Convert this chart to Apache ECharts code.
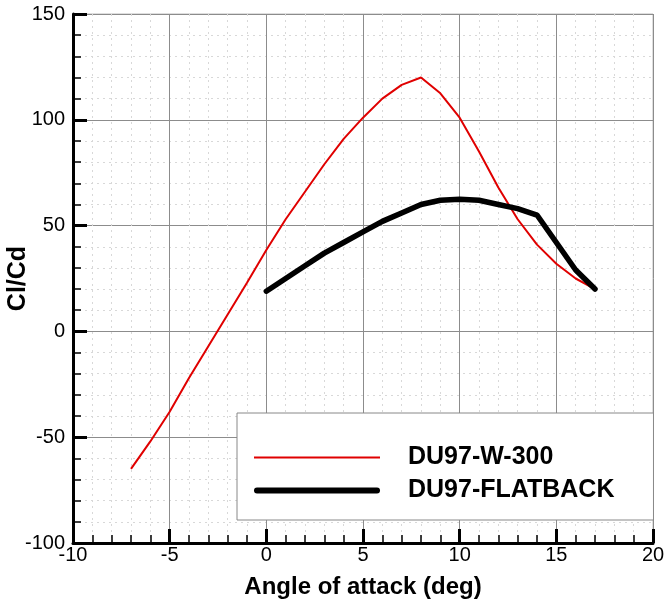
<!DOCTYPE html>
<html>
<head>
<meta charset="utf-8">
<script src="https://cdn.jsdelivr.net/npm/echarts@6/dist/echarts.min.js"></script>
<style>
  html, body { margin: 0; padding: 0; background: #fff; }
  #chart { width: 665px; height: 603px; }
</style>
</head>
<body>
<div id="chart"></div>
<script>
var chart = echarts.init(document.getElementById('chart'));

// angle of attack (deg)
const angleW300 = [-7, -6, -5, -4, -3, -2, -1, 0, 1, 2, 3, 4, 5, 6, 7, 8, 9, 10, 11, 12, 13, 14, 15, 16, 17];
const clcdW300 = [-65, -52, -38, -22, -7, 8, 23, 38.5, 53, 66, 79, 91, 101, 110, 116.5, 120, 112.5, 101, 85, 68, 53, 41, 32, 25, 20];

const angleFlat = [0, 1, 2, 3, 4, 5, 6, 7, 8, 9, 10, 11, 12, 13, 14, 15, 16, 17];
const clcdFlat = [19, 25, 31, 37, 42, 47, 52, 56, 60, 62, 62.5, 62, 60, 58, 55, 42, 29, 20];

const seriesNames = ['DU97-W-300', 'DU97-FLATBACK'];

const font = "'Liberation Sans', Arial, sans-serif";

// legend swatches: a bar inside a 126x22 box (corner points keep the box size)
const thinBar = 'path://M0,0L0,0M0,10L126,10L126,12L0,12ZM126,22L126,22';
const thickBar = 'path://M0,0L0,0M3,8L123,8A3,3,0,0,1,123,14L3,14A3,3,0,0,1,3,8ZM126,22L126,22';

function pairs(xs, ys) {
  return xs.map(function (x, i) { return [x, ys[i]]; });
}

var axisCommon = {
  type: 'value',
  axisLine: { show: true, onZero: false, lineStyle: { color: '#000', width: 3 } },
  axisTick: { show: true, inside: true, length: 14, lineStyle: { color: '#000', width: 3 } },
  minorTick: { show: true, splitNumber: 5, length: 8, lineStyle: { color: '#000', width: 1.5 } },
  splitLine: { show: true, lineStyle: { color: '#8c8c8c', width: 1 } },
  minorSplitLine: { show: true, lineStyle: { color: '#d8d8d8', width: 1, type: [2, 4] } }
};

var option = {
  backgroundColor: '#fff',
  animation: false,
  grid: {
    left: 73, right: 12, top: 14, bottom: 60,
    outerBoundsMode: 'none',
    containLabel: false,
    show: true, borderColor: '#bdbdbd', borderWidth: 1
  },
  legend: {
    data: [
      { name: seriesNames[0], icon: thinBar },
      { name: seriesNames[1], icon: thickBar }
    ],
    orient: 'vertical',
    left: 237,
    top: 413,
    backgroundColor: '#fff',
    borderColor: '#888',
    borderWidth: 1,
    padding: [32, 39, 17, 17],
    itemWidth: 126,
    itemHeight: 22,
    itemGap: 8,
    textStyle: { fontFamily: font, fontSize: 25, lineHeight: 25, fontWeight: 'bold', color: '#000', padding: [0, 0, 0, 23] }
  },
  xAxis: Object.assign({}, axisCommon, {
    min: -10, max: 20, interval: 5,
    name: 'Angle of attack (deg)',
    nameLocation: 'middle',
    nameGap: 32,
    nameTextStyle: { fontFamily: font, fontSize: 24, fontWeight: 'bold', color: '#000' },
    axisLabel: { fontFamily: font, fontSize: 20, color: '#000', margin: 2 }
  }),
  yAxis: Object.assign({}, axisCommon, {
    min: -100, max: 150, interval: 50,
    name: 'Cl/Cd',
    nameLocation: 'middle',
    nameGap: 42,
    nameMoveOverlap: false,
    nameTextStyle: { fontFamily: font, fontSize: 25, fontWeight: 'bold', color: '#000' },
    axisLabel: { fontFamily: font, fontSize: 20, color: '#000', margin: 8 }
  }),
  series: [
    {
      name: seriesNames[0],
      type: 'line',
      data: pairs(angleW300, clcdW300),
      symbol: 'none',
      lineStyle: { color: '#e00000', width: 2 },
      itemStyle: { color: '#e00000' },
      z: 3
    },
    {
      name: seriesNames[1],
      type: 'line',
      data: pairs(angleFlat, clcdFlat),
      symbol: 'none',
      lineStyle: { color: '#000', width: 5.5, join: 'round', cap: 'round' },
      itemStyle: { color: '#000' },
      z: 4
    }
  ]
};

chart.setOption(option);
</script>
</body>
</html>
